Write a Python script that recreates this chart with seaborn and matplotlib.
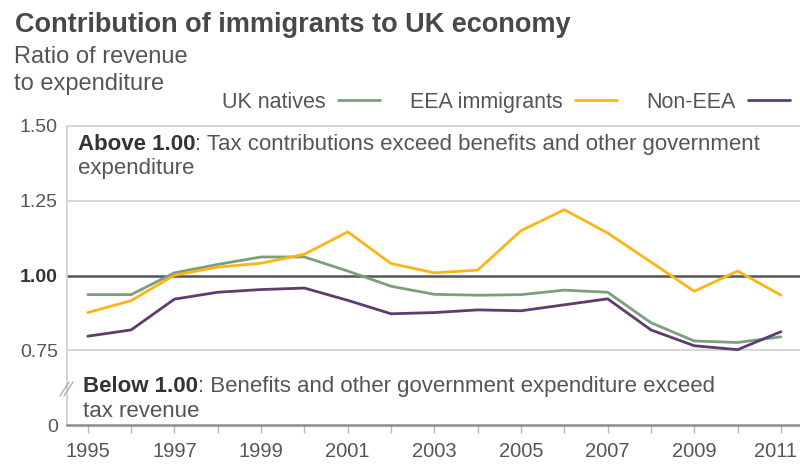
import matplotlib
matplotlib.use("Agg")
import matplotlib.pyplot as plt
import matplotlib.transforms as mtransforms
import pandas as pd
import seaborn as sns
from matplotlib.lines import Line2D

# Values
years = list(range(1995, 2012))
uk_natives = [0.936, 0.936, 1.009, 1.037, 1.062, 1.062, 1.015, 0.964, 0.937,
              0.934, 0.936, 0.951, 0.944, 0.842, 0.781, 0.776, 0.795]
eea = [0.876, 0.916, 1.001, 1.028, 1.041, 1.071, 1.146, 1.040, 1.009,
       1.018, 1.150, 1.220, 1.142, 1.045, 0.947, 1.015, 0.934]
non_eea = [0.797, 0.818, 0.921, 0.944, 0.953, 0.958, 0.917, 0.872, 0.876,
           0.885, 0.882, 0.902, 0.922, 0.818, 0.765, 0.752, 0.812]
series_names = ["UK natives", "EEA immigrants", "Non-EEA"]
colours = ["#7b9f7b", "#fdb515", "#5e3c6e"]
y_ticks = [0.5, 0.75, 1.0, 1.25, 1.5]
y_labels = ["0", "0.75", "1.00", "1.25", "1.50"]
x_labels = [str(y) if y % 2 == 1 else "" for y in years]

df = pd.DataFrame({
    "year": years * 3,
    "ratio": uk_natives + eea + non_eea,
    "group": [n for n in series_names for _ in years],
})

sns.set_style("white")
plt.rcParams["font.family"] = ["Liberation Sans", "DejaVu Sans"]

W, H = 800, 468
fig = plt.figure(figsize=(8, 4.68), dpi=100)
ax = fig.add_axes([67 / W, 1 - 425 / H, 733 / W, 299 / H])

# reference lines
ax.axhline(1.25, color="#d0d0d0", lw=1.2, zorder=1)
ax.axhline(0.75, color="#d0d0d0", lw=1.2, zorder=1)
ax.axhline(1.0, color="#555555", lw=1.8, zorder=2)

sns.lineplot(data=df, x="year", y="ratio", hue="group", hue_order=series_names,
             palette=dict(zip(series_names, colours)), lw=2, ax=ax, zorder=3,
             legend=False)

ax.set_xlim(1994.52, 2011.44)
ax.set_ylim(0.5, 1.5)
ax.set_xlabel("")
ax.set_ylabel("")

ax.set_yticks(y_ticks)
ax.set_yticklabels(y_labels)
for lab in ax.get_yticklabels():
    lab.set_color("#555555")
    lab.set_fontsize(14)
    if lab.get_text() == "1.00":
        lab.set_fontweight("bold")
        lab.set_color("#333333")
ax.tick_params(axis="y", length=0, pad=6.5)

ax.set_xticks(years)
ax.set_xticklabels(x_labels, fontsize=14.5, color="#555555")
ax.tick_params(axis="x", length=6, width=1, color="#b8b8b8", direction="out",
               pad=6, bottom=True)
# nudge the last year label so it stays inside the figure
last = ax.get_xticklabels()[-1]
last.set_transform(last.get_transform() +
                   mtransforms.ScaledTranslation(-5 / 100, 0, fig.dpi_scale_trans))

for side in ["left", "top"]:
    ax.spines[side].set_color("#d0d0d0")
    ax.spines[side].set_linewidth(1.2)
ax.spines["right"].set_visible(False)
ax.spines["bottom"].set_color("#8c8c8c")
ax.spines["bottom"].set_linewidth(1.8)

# axis break marks on the left spine
for dx in (0, 4):
    fig.add_artist(Line2D([(60 + dx) / W, (69 + dx) / W],
                          [1 - 396 / H, 1 - 382 / H],
                          transform=fig.transFigure, color="#b0b0b0", lw=1))

# annotation texts
def two_part(x, y, bold, rest):
    t = ax.text(x, y, bold, transform=ax.transAxes, fontsize=16,
                fontweight="bold", color="#333333", va="baseline")
    ax.annotate(rest, xy=(1, 0), xycoords=t, fontsize=16, color="#555555",
                va="bottom")

two_part(0.015, 0.920, "Above 1.00", ": Tax contributions exceed benefits and other government")
ax.text(0.015, 0.839, "expenditure", transform=ax.transAxes, fontsize=16,
        color="#555555", va="baseline")
two_part(0.0214, 0.110, "Below 1.00", ": Benefits and other government expenditure exceed")
ax.text(0.0214, 0.027, "tax revenue", transform=ax.transAxes, fontsize=16,
        color="#555555", va="baseline")

# title and subtitle
fig.text(15 / W, 1 - 32 / H, "Contribution of immigrants to UK economy",
         fontsize=19.5, fontweight="bold", color="#484848", va="baseline")
fig.text(14 / W, 1 - 63 / H, "Ratio of revenue", fontsize=17, color="#555555",
         va="baseline")
fig.text(14 / W, 1 - 90 / H, "to expenditure", fontsize=17, color="#555555",
         va="baseline")

# legend: label first, then line sample
handles = [Line2D([], [], color=c, lw=2) for c in colours]
fig.legend(handles, series_names, loc="lower left",
           bbox_to_anchor=(222 / W, 1 - 113 / H), ncol=3, frameon=False,
           markerfirst=False, handlelength=1.95, handletextpad=0.56,
           columnspacing=1.4, borderpad=0, borderaxespad=0,
           prop={"size": 15.5}, labelcolor="#555555")

fig.savefig("out.png", dpi=100)
